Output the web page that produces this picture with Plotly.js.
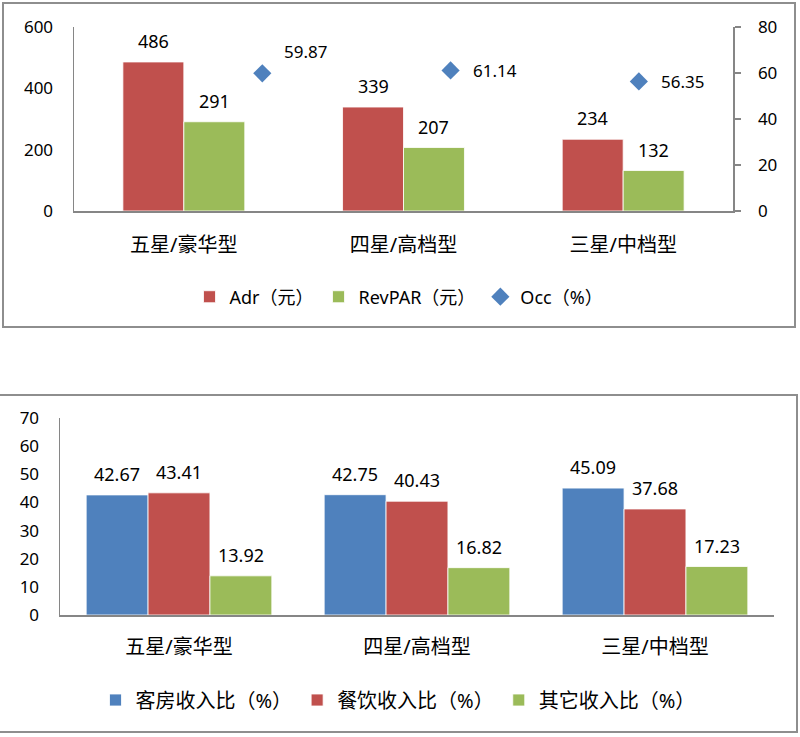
<!DOCTYPE html>
<html>
<head>
<meta charset="utf-8">
<script src="https://cdn.plot.ly/plotly-3.0.1.min.js"></script>
<style>
  body { margin: 0; background: #fff; width: 800px; height: 737px; overflow: hidden; position: relative; }
  .box { position: absolute; box-sizing: border-box; border: 2px solid #8e8e8e; background: #fff; }
  #chart-top { left: 2px; top: 2px; width: 794px; height: 326px; }
  #chart-bottom { left: -2px; top: 394px; width: 800px; height: 339px; }
</style>
</head>
<body>
<div id="chart-top" class="box"></div>
<div id="chart-bottom" class="box"></div>
<script>
// data
const categories = ['五星/豪华型', '四星/高档型', '三星/中档型'];
const adr = [486, 339, 234];
const revpar = [291, 207, 132];
const occ = [59.87, 61.14, 56.35];
const roomShare = [42.67, 42.75, 45.09];
const foodShare = [43.41, 40.43, 37.68];
const otherShare = [13.92, 16.82, 17.23];

// styles
const FONT = 'Noto Sans, Noto Sans CJK SC, sans-serif';
const RED = '#c0504d', GREEN = '#9bbb59', BLUE = '#4f81bd';
const AXIS = '#868686';
const occLift = [22, 0, 0];   // first Occ label sits above-right of its marker

// value labels centred over each bar of a group
function barLabels(series, bargap, size, lift) {
  const n = series.length, w = (1 - bargap) / n, out = [];
  series.forEach((vals, i) => vals.forEach((v, j) => out.push({
    x: j + (i - (n - 1) / 2) * w, y: v, xref: 'x', yref: 'y',
    text: String(v), showarrow: false, yanchor: 'middle', yshift: lift,
    font: { size: size, color: '#000' }
  })));
  return out;
}

function barTrace(name, vals, color) {
  return {
    type: 'bar', name: name, x: categories, y: vals,
    marker: { color: color, line: { color: 'rgba(255,255,255,0.8)', width: 1 } }
  };
}

const baseAxis = { showgrid: false, zeroline: false, showline: true, linecolor: AXIS, linewidth: 1.5, fixedrange: true };

// top chart
const topGap = 0.445;
const topTraces = [
  barTrace('Adr（元）', adr, RED),
  barTrace('RevPAR（元）', revpar, GREEN),
  {
    type: 'scatter', mode: 'markers', name: 'Occ（%）', x: categories, y: occ,
    xaxis: 'x2', yaxis: 'y2',
    marker: { symbol: 'diamond', size: 14, color: BLUE }
  }
];
const occLabels = occ.map((v, j) => ({
  x: j, y: v, xref: 'x2', yref: 'y2', text: String(v), showarrow: false,
  xanchor: 'left', yanchor: 'middle', xshift: 20, yshift: occLift[j],
  font: { size: 17, color: '#000' }
}));
Plotly.newPlot('chart-top', topTraces, {
  width: 790, height: 322,
  margin: { l: 70, r: 61, t: 23, b: 115 },
  paper_bgcolor: '#fff', plot_bgcolor: '#fff',
  font: { family: FONT, size: 17, color: '#000' },
  barmode: 'group', bargap: topGap, bargroupgap: 0,
  xaxis: Object.assign({}, baseAxis, { type: 'category', ticks: '', tickfont: { size: 20 }, ticklabelstandoff: 15 }),
  xaxis2: { type: 'category', overlaying: 'x', range: [-1, 2.5], visible: false, fixedrange: true },
  yaxis: Object.assign({}, baseAxis, { range: [0, 600], dtick: 200, ticks: '', ticklabelstandoff: 16 }),
  yaxis2: Object.assign({}, baseAxis, {
    overlaying: 'y', side: 'right', anchor: 'x', range: [0, 80], dtick: 20,
    ticks: 'outside', ticklen: 6, tickwidth: 1.5, tickcolor: AXIS, ticklabelstandoff: 14
  }),
  showlegend: true,
  legend: {
    orientation: 'h', xref: 'container', yref: 'container',
    x: 0.5, xanchor: 'center', y: 0.09, yanchor: 'middle', font: { size: 18 }
  },
  annotations: barLabels([adr, revpar], topGap, 18, 21).concat(occLabels)
}, { displayModeBar: false, staticPlot: true });

// bottom chart
const botGap = 0.22;
const botTraces = [
  barTrace('客房收入比（%）', roomShare, BLUE),
  barTrace('餐饮收入比（%）', foodShare, RED),
  barTrace('其它收入比（%）', otherShare, GREEN)
];
Plotly.newPlot('chart-bottom', botTraces, {
  width: 796, height: 335,
  margin: { l: 60, r: 22, t: 22, b: 116 },
  paper_bgcolor: '#fff', plot_bgcolor: '#fff',
  font: { family: FONT, size: 17, color: '#000' },
  barmode: 'group', bargap: botGap, bargroupgap: 0,
  xaxis: Object.assign({}, baseAxis, { type: 'category', ticks: '', tickfont: { size: 20 }, ticklabelstandoff: 13 }),
  yaxis: Object.assign({}, baseAxis, { range: [0, 70], dtick: 10, ticks: '', ticklabelstandoff: 16 }),
  showlegend: true,
  legend: {
    orientation: 'h', xref: 'container', yref: 'container',
    x: 0.5, xanchor: 'center', y: 0.0925, yanchor: 'middle', font: { size: 20 }
  },
  annotations: barLabels([roomShare, foodShare, otherShare], botGap, 18, 21)
}, { displayModeBar: false, staticPlot: true });
</script>
</body>
</html>
